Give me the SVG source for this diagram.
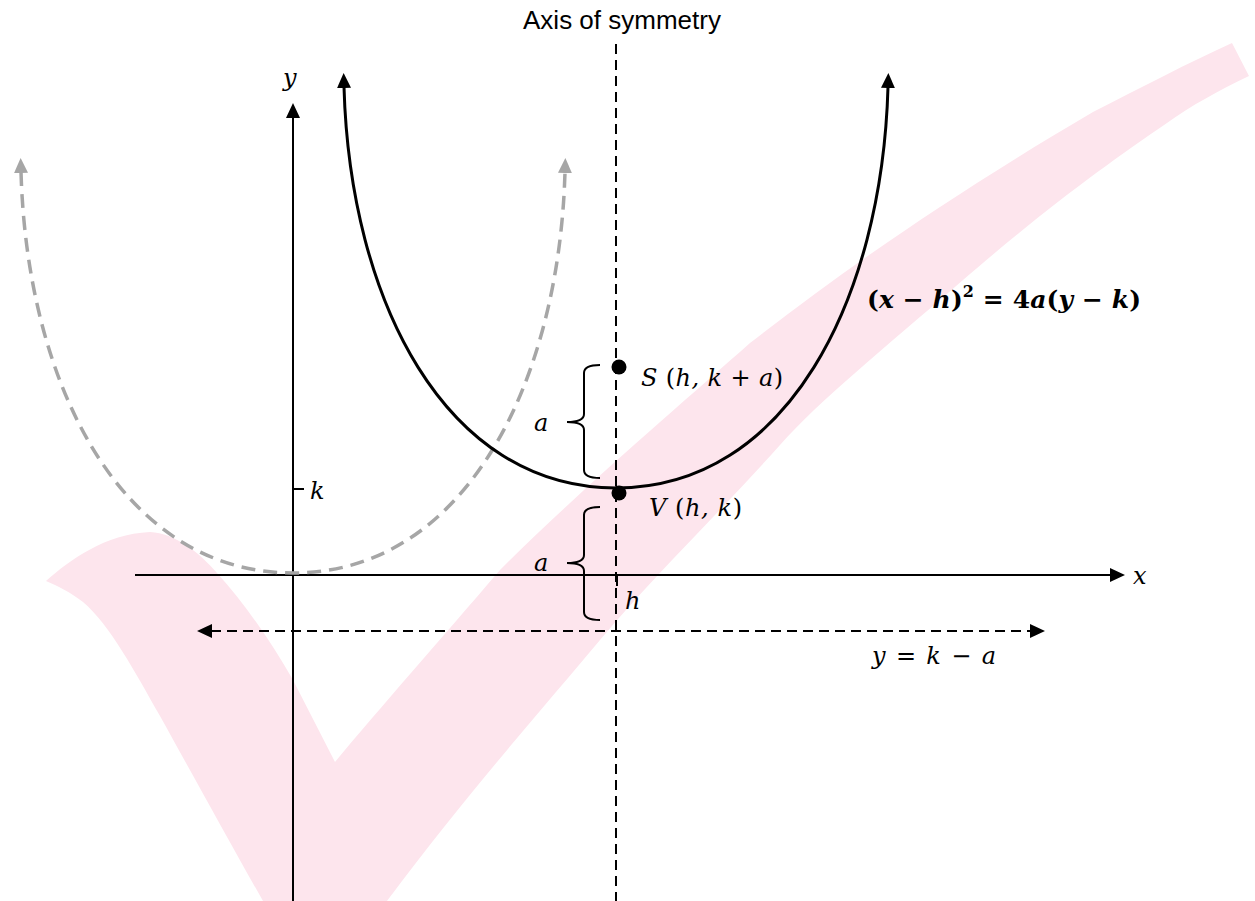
<svg xmlns="http://www.w3.org/2000/svg" width="1255" height="901" viewBox="0 0 1255 901">
<style>
.m{font-family:"DejaVu Serif","Liberation Serif",serif;font-style:italic;font-size:24px;fill:#000}
.up{font-style:normal}
.ax{stroke:#000;stroke-width:2;fill:none}
.dash{stroke:#000;stroke-width:2;fill:none;stroke-dasharray:10 6}
.brace{stroke:#000;stroke-width:2;fill:none}
</style>
<defs>
<marker id="ab" markerUnits="userSpaceOnUse" markerWidth="16" markerHeight="14" viewBox="0 0 16 14" refX="1" refY="7" orient="auto-start-reverse"><path d="M0,0 L15,7 L0,14 Z" fill="#000"/></marker>
<marker id="ag" markerUnits="userSpaceOnUse" markerWidth="16" markerHeight="14" viewBox="0 0 16 14" refX="1" refY="7" orient="auto-start-reverse"><path d="M0,0 L15,7 L0,14 Z" fill="#a6a6a6"/></marker>
</defs>
<rect width="1255" height="901" fill="#fff"/>
<g id="checkmark">
<path fill="#fde5ed" d="M46,581 C70,560 105,534 150,532 C175,533 200,553 217,573 C245,604 270,640 293,680 L335,762 C380,708 440,640 500,570 C580,490 680,405 750,343 C850,265 960,190 1093,112 C1140,88 1190,62 1232,43 L1249,76 C1220,90 1190,106 1167,123 C1110,162 1050,205 963,280 C880,352 820,400 780,445 C720,512 650,580 600,640 C540,712 470,790 387,901 L263,901 C230,843 190,770 160,716 C135,672 110,625 83,602 C70,592 58,586 46,581 Z"/>
</g>
<g id="connectors">
<line id="y-axis" class="ax" x1="293" y1="901" x2="293" y2="117" marker-end="url(#ab)"/>
<line id="x-axis" class="ax" x1="135" y1="575" x2="1111" y2="575" marker-end="url(#ab)"/>
<line id="axis-of-symmetry" class="dash" x1="616" y1="44" x2="616" y2="901"/>
<line id="directrix" class="dash" x1="211" y1="631" x2="1031" y2="631" marker-start="url(#ab)" marker-end="url(#ab)"/>
<line id="k-tick" class="ax" x1="293" y1="489" x2="304" y2="489"/>
<line id="h-tick" class="ax" x1="617" y1="575" x2="617" y2="586"/>
</g>
<g id="reflected-parabola">
<path d="M21,172 C27,385 122,573 293,573 C464,573 559,385 565,172" fill="none" stroke="#a6a6a6" stroke-width="3.5" stroke-dasharray="14 8" marker-start="url(#ag)" marker-end="url(#ag)"/>
</g>
<g id="parabola">
<path d="M344,87 C350,300 445,488 616,488 C787,488 882,300 888,87" fill="none" stroke="#000" stroke-width="3" marker-start="url(#ab)" marker-end="url(#ab)"/>
<text x="867" y="308" class="m" style="font-weight:bold;font-size:25px" textLength="274" lengthAdjust="spacing"><tspan class="up">(</tspan>x <tspan class="up">−</tspan> h<tspan class="up">)</tspan><tspan class="up" font-size="16" dy="-11">2</tspan><tspan class="up" dy="11"> = 4</tspan>a<tspan class="up">(</tspan>y <tspan class="up">−</tspan> k<tspan class="up">)</tspan></text>
</g>
<g id="focus">
<circle cx="619" cy="367" r="7.5" fill="#000"/>
<text x="641" y="386" class="m" textLength="142" lengthAdjust="spacing">S <tspan class="up">(</tspan>h, k <tspan class="up">+</tspan> a<tspan class="up">)</tspan></text>
</g>
<g id="vertex">
<circle cx="619" cy="493" r="7.5" fill="#000"/>
<text x="649" y="516" class="m" textLength="93" lengthAdjust="spacing">V <tspan class="up">(</tspan>h, k<tspan class="up">)</tspan></text>
</g>
<g id="brace-upper">
<path class="brace" d="M600,365 Q584,365 584,373 L584,414 Q584,422 567,422 Q584,422 584,430 L584,470 Q584,478 600,478"/>
<text x="534" y="431" class="m">a</text>
</g>
<g id="brace-lower">
<path class="brace" d="M600,507 Q584,507 584,515 L584,555 Q584,563 567,563 Q584,563 584,571 L584,612 Q584,620 600,620"/>
<text x="534" y="571" class="m">a</text>
</g>
<g id="labels">
<text x="622" y="29" text-anchor="middle" font-family="Liberation Sans, Arial, sans-serif" font-size="26">Axis of symmetry</text>
<text x="283" y="86" class="m">y</text>
<text x="1133" y="584" class="m">x</text>
<text x="310" y="499" class="m">k</text>
<text x="625" y="609" class="m">h</text>
<text x="872" y="664" class="m" textLength="124" lengthAdjust="spacing">y <tspan class="up">=</tspan> k <tspan class="up">−</tspan> a</text>
</g>
</svg>
